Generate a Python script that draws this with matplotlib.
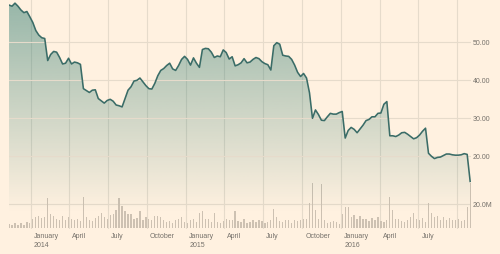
#!/usr/bin/env python
# weekly close + volume, FT style
import numpy as np
import pandas as pd
import matplotlib
matplotlib.use('Agg')
from matplotlib import pyplot as plt
import matplotlib.dates as mdates
from matplotlib.patches import Polygon
from matplotlib.transforms import blended_transform_factory

plt.rcParams['font.family'] = ['Liberation Sans', 'DejaVu Sans']

# DATA -----------------------------------------
start = '2013-11-11'
price = [59.8, 59.5, 60.3, 59.5, 58.5, 57.8, 58.1, 56.7, 55.2, 53.1,
         51.9, 51.2, 51.0, 45.2, 46.8, 47.6, 47.4, 46.0, 44.3, 44.5,
         45.8, 44.3, 44.8, 44.6, 44.2, 37.8, 37.3, 36.8, 37.4, 37.5,
         35.2, 34.6, 34.0, 34.7, 35.0, 34.5, 33.5, 33.3, 33.0, 35.2,
         37.4, 38.3, 39.8, 40.0, 40.6, 39.6, 38.6, 37.8, 37.7, 39.2,
         41.2, 42.6, 43.1, 43.9, 44.5, 43.0, 42.6, 43.9, 45.5, 46.3,
         45.5, 44.0, 45.9, 44.5, 43.4, 48.1, 48.4, 48.3, 47.4, 46.0,
         46.4, 46.2, 48.0, 47.3, 45.6, 46.2, 43.8, 44.1, 44.6, 45.7,
         44.6, 44.8, 45.5, 46.0, 45.7, 44.9, 44.4, 44.1, 42.7, 49.1,
         49.9, 49.5, 46.6, 46.4, 46.3, 45.5, 44.0, 42.1, 41.0, 41.8,
         40.6, 36.7, 30.0, 32.2, 31.0, 29.5, 29.4, 30.4, 31.3, 31.1,
         31.1, 31.5, 31.8, 24.8, 26.8, 27.6, 27.1, 26.2, 27.2, 28.2,
         29.4, 29.7, 30.4, 30.4, 31.3, 31.4, 33.7, 34.4, 25.4, 25.4,
         25.2, 25.6, 26.2, 26.3, 25.8, 25.2, 24.6, 24.9, 25.6, 26.6,
         27.4, 20.8, 20.0, 19.4, 19.7, 19.8, 20.2, 20.6, 20.6, 20.4,
         20.3, 20.3, 20.4, 20.7, 20.5, 13.4]

volume = [3.5, 2.8, 4.2, 3.0, 4.5, 2.5, 5.0, 4.0,
          8.0, 9.0, 10.0, 8.5, 9.0,
          25.5,
          12.0, 10.0, 8.0, 6.5, 10.0, 7.0, 9.5, 8.0, 6.5, 7.5, 6.0,
          26.0,
          9.5, 7.0, 6.0, 8.5, 10.0, 13.0, 9.0, 8.0, 11.0, 12.0, 15.0,
          25.0, 18.5,
          14.0, 11.5, 12.0, 8.0, 8.5, 14.7, 7.0, 9.0, 8.0, 6.5, 10.0, 10.5,
          9.0, 7.0, 5.5, 6.0, 4.5, 7.0, 8.0, 9.5, 5.0, 4.0, 6.5, 7.5, 5.5,
          12.5, 14.0,
          8.0, 7.5, 5.5, 12.5, 5.0, 4.5, 6.0, 8.0, 6.5, 7.0,
          14.0,
          6.0, 5.0, 7.5, 4.5, 5.0, 6.5, 5.5, 7.0, 6.0, 4.5, 5.5, 7.0,
          16.0,
          9.0, 6.0, 5.0, 7.0, 6.5, 4.5, 7.0, 6.0, 6.5, 7.5, 8.0,
          21.0, 37.5, 15.0, 8.0, 37.0,
          6.5, 4.5, 5.5, 6.0, 5.0, 3.5,
          12.0, 17.5, 18.0,
          9.0, 11.0, 7.5, 10.0, 8.0, 7.5, 6.0, 8.5, 7.0, 9.0, 6.0, 5.5, 7.0,
          26.0, 15.0,
          8.0, 7.5, 6.0, 5.5, 7.0, 9.0, 13.0, 8.0, 7.0, 8.5, 5.0,
          21.0, 13.0,
          9.0, 10.5, 7.0, 9.0, 6.5, 8.5, 7.0, 6.5, 7.5, 6.0,
          7.0, 18.0, 37.5]

tick_dates = ['2014-01-01', '2014-04-01', '2014-07-01', '2014-10-01',
              '2015-01-01', '2015-04-01', '2015-07-01', '2015-10-01',
              '2016-01-01', '2016-04-01', '2016-07-01', '2016-10-01']
tick_months = ['January', 'April', 'July', 'October',
               'January', 'April', 'July', 'October',
               'January', 'April', 'July', '']
tick_years = ['2014', '', '', '', '2015', '', '', '', '2016', '', '', '']
price_ticks = [20, 30, 40, 50]
vol_ticks = [20]
#----------------------------------------------

BG = '#fff1e0'
LINE = '#3a6c67'
GRID = '#e6dbcb'
TXT = '#75716a'

dates = pd.date_range(start, periods=len(price), freq='7D')
xd = mdates.date2num(dates)
xt = mdates.date2num(pd.to_datetime(tick_dates))

fig = plt.figure(figsize=(5.0, 2.54), dpi=100, facecolor=BG)
ax = fig.add_axes([9/500, 25/254, 462/500, 229/254])
ax.set_facecolor(BG)
axp = ax.twinx()
axp.patch.set_visible(False)

x0 = mdates.date2num(pd.Timestamp('2013-11-10 22:00'))
x1 = mdates.date2num(pd.Timestamp('2016-11-02'))

# volume (base axes)
ax.bar(xd, volume, width=3.0, color='#cdc1b2', align='center', zorder=2)
ax.set_xlim(x0, x1)
ax.set_ylim(-0.6, 190.3)
ax.set_yticks(vol_ticks)
ax.set_yticklabels(['%.1fM' % v for v in vol_ticks])
ax.set_xticks(xt)
ax.set_xticklabels([])
ax.grid(True, color=GRID, lw=0.8, zorder=0)
ax.set_axisbelow(True)

# price
ylo, yhi = 0.87, 61.13
axp.set_ylim(ylo, yhi)
axp.set_xlim(x0, x1)
verts = np.column_stack([np.r_[xd[0], xd, xd[-1]], np.r_[ylo, price, ylo]])
poly = Polygon(verts, closed=True, facecolor='none', edgecolor='none')
axp.add_patch(poly)
grad = np.zeros((256, 1, 4))
grad[:, 0, :3] = np.array([40, 120, 110]) / 255.0
grad[:, 0, 3] = np.linspace(0.49, 0.0, 256)
yfade = 50 - (213 - 42.3) / 3.8
im = axp.imshow(grad, extent=[x0, x1, yfade, yhi], origin='upper',
                aspect='auto', zorder=1, interpolation='bilinear')
im.set_clip_path(poly)
axp.plot(xd, price, color=LINE, lw=1.15, zorder=3, solid_joinstyle='round')
axp.set_yticks(price_ticks)
axp.set_yticklabels(['%.2f' % v for v in price_ticks])
axp.grid(True, axis='y', color=GRID, lw=0.8, zorder=0)
axp.set_xticks(xt)
axp.tick_params(axis='x', length=0, labelbottom=False)

for a in (ax, axp):
    for s in a.spines.values():
        s.set_visible(False)
    a.tick_params(axis='y', length=0, pad=1.5, labelsize=5, labelcolor=TXT,
                  left=False, labelleft=False, right=True, labelright=True)
    a.tick_params(axis='x', length=0)
axp.set_ylim(ylo, yhi)
axp.set_xlim(x0, x1)

trans = blended_transform_factory(ax.transData, ax.transAxes)
for d, m, yr in zip(xt, tick_months, tick_years):
    if m:
        ax.annotate(m, xy=(d, 0), xycoords=trans, xytext=(2.4, -5.5),
                    textcoords='offset points', ha='left', va='center',
                    fontsize=5, color=TXT, annotation_clip=False)
    if yr:
        ax.annotate(yr, xy=(d, 0), xycoords=trans, xytext=(2.4, -12.2),
                    textcoords='offset points', ha='left', va='center',
                    fontsize=5, color=TXT, annotation_clip=False)

fig.savefig('out.png', dpi=100, facecolor=BG)
